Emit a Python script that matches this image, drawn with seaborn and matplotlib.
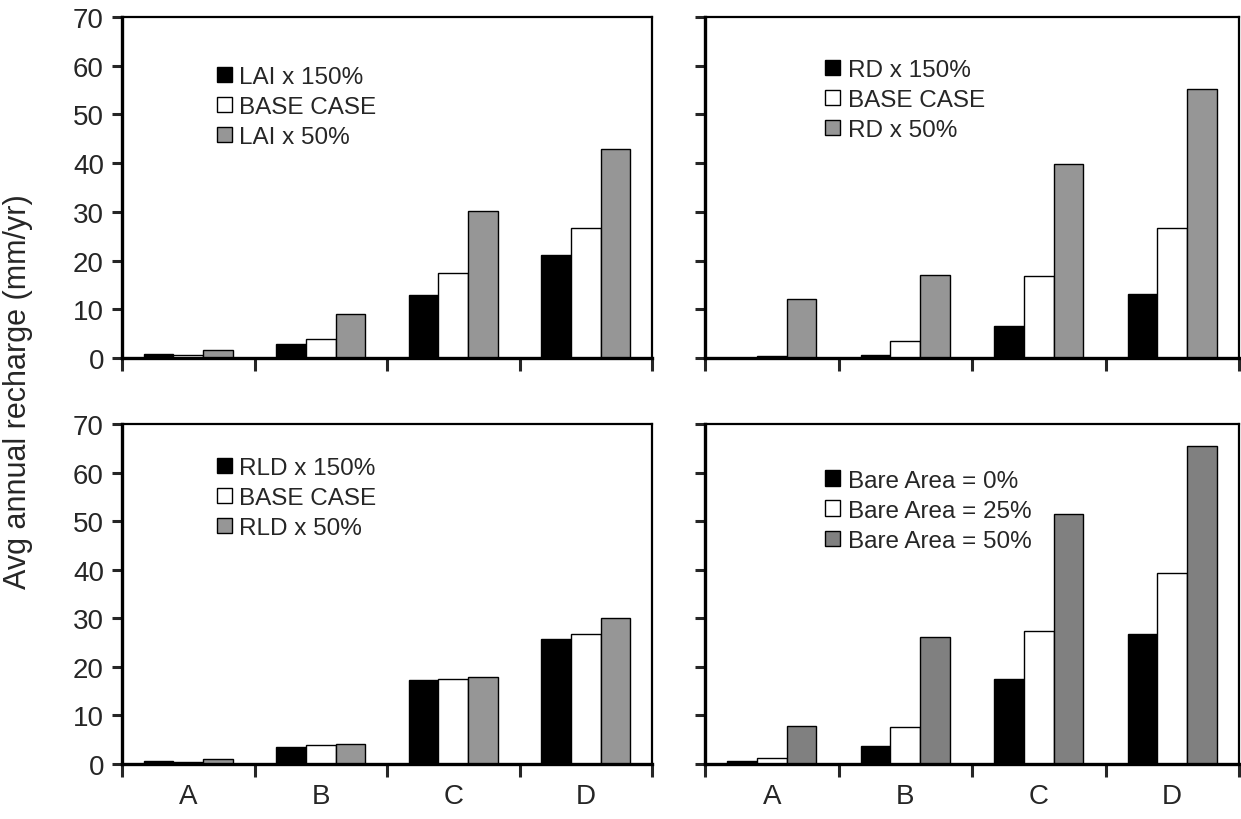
import pandas as pd
import numpy as np
import seaborn as sns
import matplotlib.pyplot as plt

# -----------------------------
# Data
# -----------------------------
sites = ["A", "B", "C", "D"]

lai_labels = ["LAI x 150%", "BASE CASE", "LAI x 50%"]
lai_high = [0.8, 2.9, 13.0, 21.1]
lai_base = [0.6, 3.9, 17.4, 26.7]
lai_low = [1.6, 9.0, 30.2, 42.9]

rd_labels = ["RD x 150%", "BASE CASE", "RD x 50%"]
rd_high = [0.1, 0.7, 6.6, 13.1]
rd_base = [0.5, 3.4, 16.9, 26.7]
rd_low = [12.2, 17.1, 39.8, 55.3]

rld_labels = ["RLD x 150%", "BASE CASE", "RLD x 50%"]
rld_high = [0.6, 3.6, 17.2, 25.7]
rld_base = [0.5, 3.9, 17.4, 26.7]
rld_low = [1.0, 4.2, 17.9, 30.1]

bare_labels = ["Bare Area = 0%", "Bare Area = 25%", "Bare Area = 50%"]
bare_0 = [0.6, 3.8, 17.4, 26.7]
bare_25 = [1.2, 7.6, 27.3, 39.4]
bare_50 = [7.8, 26.2, 51.4, 65.5]

y_ticks = [0, 10, 20, 30, 40, 50, 60, 70]

# -----------------------------
# Plot
# -----------------------------
sns.set_style("white")
plt.rcParams['font.family'] = ['Liberation Sans', 'DejaVu Sans']

fig = plt.figure(figsize=(12.41, 8.2), dpi=100)

W, H = 1241, 820
def px_axes(x0, y0, x1, y1):
    return fig.add_axes([x0 / W, 1 - y1 / H, (x1 - x0) / W, (y1 - y0) / H])

panels = [
    (px_axes(122, 18, 652, 359), lai_labels, [lai_high, lai_base, lai_low], "#969696",
     True, False, (0.179, 0.856)),
    (px_axes(705, 18, 1239, 359), rd_labels, [rd_high, rd_base, rd_low], "#969696",
     False, False, (0.225, 0.877)),
    (px_axes(122, 425, 652, 765), rld_labels, [rld_high, rld_base, rld_low], "#969696",
     True, True, (0.179, 0.903)),
    (px_axes(705, 425, 1239, 765), bare_labels, [bare_0, bare_25, bare_50], "#808080",
     False, True, (0.225, 0.865)),
]

for ax, labels, series, gray, show_y, show_x, leg_pos in panels:
    rows = []
    for lab, vals in zip(labels, series):
        for s, v in zip(sites, vals):
            rows.append({"site": s, "case": lab, "recharge": v})
    df = pd.DataFrame(rows)

    sns.barplot(data=df, x="site", y="recharge", hue="case", order=sites,
                hue_order=labels, palette=["black", "white", gray],
                edgecolor="black", linewidth=1.0, width=0.67, ax=ax,
                errorbar=None)

    ax.set_xlim(-0.5, 3.5)
    ax.set_ylim(0, 70)
    ax.set_xlabel("")
    ax.set_ylabel("")

    # category boundaries get the tick marks, centres get the labels
    ax.set_xticks([-0.5, 0.5, 1.5, 2.5, 3.5])
    ax.set_xticklabels([])
    ax.set_xticks(range(len(sites)), minor=True)
    ax.set_xticklabels(sites if show_x else [], minor=True, fontsize=20)
    ax.tick_params(axis="x", which="major", direction="out", length=9, width=2.2,
                   bottom=True)
    ax.tick_params(axis="x", which="minor", length=0, pad=14)

    ax.set_yticks(y_ticks)
    ax.set_yticklabels(y_ticks if show_y else [], fontsize=20)
    ax.tick_params(axis="y", direction="out", length=7, width=2.2, left=True, pad=6)

    for side in ["left", "bottom"]:
        ax.spines[side].set_linewidth(2.4)
        ax.spines[side].set_color("black")
    for side in ["top", "right"]:
        ax.spines[side].set_linewidth(1.6)
        ax.spines[side].set_color("black")

    leg = ax.legend(loc="upper left", bbox_to_anchor=leg_pos, frameon=False,
                    fontsize=17.5, handlelength=0.62, handleheight=0.62,
                    handletextpad=0.3, labelspacing=0.33, borderpad=0,
                    borderaxespad=0)
    for h in leg.legend_handles:
        h.set_edgecolor("black")
        h.set_linewidth(1.0)

fig.text(18 / W, 1 - 392 / H, "Avg annual recharge (mm/yr)", rotation=90,
         fontsize=22, ha="center", va="center")

plt.savefig("out.png", dpi=100)
plt.close()
